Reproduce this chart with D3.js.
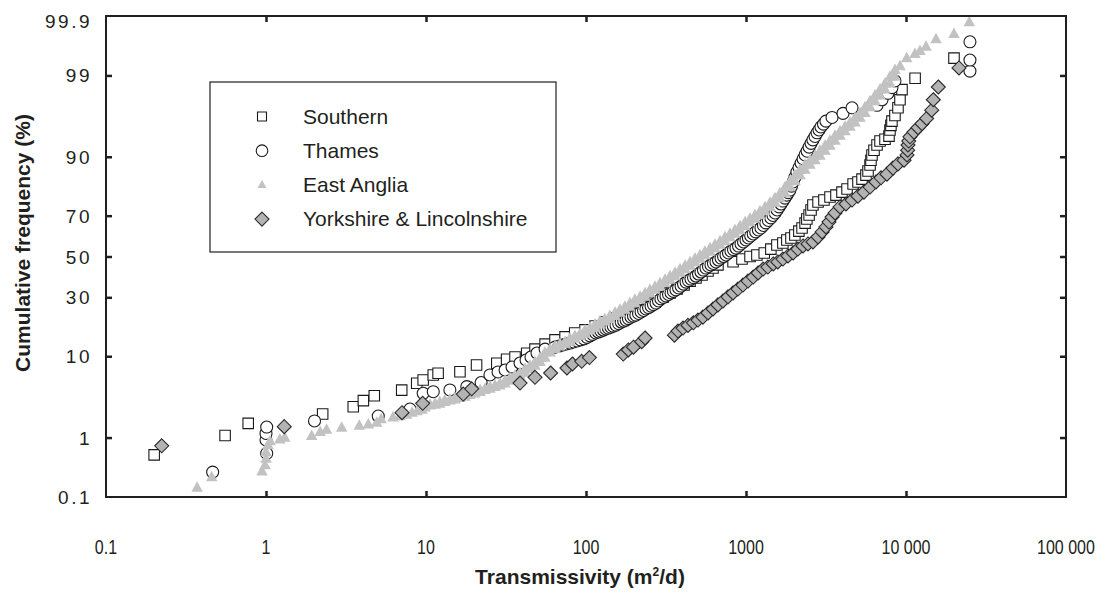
<!DOCTYPE html>
<html><head><meta charset="utf-8">
<script src="https://cdn.jsdelivr.net/npm/d3@7"></script>
<style>
html,body{margin:0;padding:0;background:#fff;}
svg{display:block;font-family:"Liberation Sans",Arial,sans-serif;}
</style></head><body>
<svg id="chart" width="1115" height="594"></svg>
<script>
// Transmissivity (m2/d) and cumulative frequency (%) for each region
const southern = [[0.2,0.54],[0.555,1.07],[0.774,1.6],[2.26,2.15],[3.51,2.68],[4.06,3.2],[4.75,3.68],[7.05,4.3],[8.75,5.17],[9.6,5.63],[11.1,6.4],[11.9,6.67],[16.3,6.94],[20.7,8.17],[27.7,8.5],[31.9,9.33],[36,9.83],[42.6,10.7],[48,11.7],[55.5,13.0],[64,14.2],[74,15.1],[85,16.3],[98.6,17.3],[114,18.6],[131,20.0],[152,21.5],[175,22.6],[202,23.8],[218,24.6],[244,26.2],[270,27.9],[303,30.1],[335,32.0],[371,33.8],[410,35.7],[447,37.6],[487,39.1],[531,40.6],[579,42.6],[622,44.1],[668,45.7],[830,47.3],[944,48.7],[1060,50.0],[1170,50.8],[1300,51.8],[1430,53.8],[1560,55.9],[1700,56.9],[1800,58.4],[1910,59.4],[2020,60.9],[2140,62.8],[2240,64.3],[2340,66.6],[2400,68.5],[2480,70.3],[2550,72.5],[2620,74.6],[2820,75.8],[3070,76.6],[3350,77.8],[3650,78.5],[3980,79.6],[4280,80.7],[4670,82.4],[5010,83.1],[5310,84.0],[5620,85.2],[5790,86.4],[5960,88.0],[6040,89.2],[6130,90.4],[6310,91.4],[6590,92.4],[6880,93.1],[7390,93.4],[7830,93.9],[7940,94.8],[8050,95.4],[8170,95.9],[8530,96.5],[8910,97.2],[9170,97.8],[9440,98.4],[11400,98.9],[19950,99.46]];

const thames = [[0.464,0.28],[1.01,0.57],[1.0,0.92],[1.0,1.15],[1.01,1.42],[2.01,1.73],[5.03,2.02],[7.94,2.5],[9.6,3.94],[11.1,4.12],[14.1,4.32],[18,4.72],[22.1,5.27],[25.1,6.4],[28.2,6.9],[31.2,7.24],[34.5,7.78],[38.7,8.56],[42.2,9.18],[45.3,9.83],[49.4,10.75],[55.5,11.7],[64,12.2],[67.8,12.5],[71.8,12.8],[75.5,13.05],[79.4,13.3],[83.5,13.6],[87.9,13.9],[92.4,14.2],[97.2,14.5],[101.5,14.95],[106,15.4],[110,15.85],[115,16.3],[119.5,16.6],[124,16.9],[128.5,17.25],[133,17.6],[138,17.9],[143,18.2],[148,18.55],[154,18.9],[160,19.45],[166,20.0],[172,20.35],[178,20.7],[184,21.25],[191,21.8],[198,22.2],[205,22.6],[213,23.2],[221,23.8],[229,24.4],[237,25.0],[246,25.6],[255,26.2],[264,26.85],[274,27.5],[284,28.4],[294,29.3],[305,29.95],[316,30.6],[328,31.3],[340,32.0],[352,32.7],[365,33.4],[379,34.3],[393,35.2],[407,36.15],[422,37.1],[437,37.85],[453,38.6],[470,39.35],[487,40.1],[505,41.1],[523,42.1],[542,43.1],[562,44.1],[583,44.9],[604,45.7],[626,46.45],[649,47.2],[673,48.2],[698,49.2],[724,50.0],[750,50.8],[777,51.8],[805,52.8],[835,53.55],[866,54.3],[898,55.35],[931,56.4],[965,57.4],[1000,58.4],[1035,59.4],[1070,60.4],[1110,61.4],[1150,62.4],[1195,63.35],[1240,64.3],[1285,65.5],[1330,66.7],[1380,67.85],[1430,69.0],[1475,70.1],[1520,71.2],[1565,72.5],[1610,73.8],[1655,75.0],[1700,76.2],[1750,77.35],[1800,78.5],[1840,79.4],[1880,80.3],[1925,81.7],[1970,83.1],[2025,84.6],[2080,86.1],[2145,87.3],[2210,88.5],[2275,89.5],[2340,90.4],[2410,91.2],[2480,92.0],[2550,92.7],[2620,93.3],[2700,93.85],[2780,94.4],[2860,94.8],[2940,95.2],[3050,95.55],[3160,95.9],[3450,96.3],[4040,96.7],[4600,97.2],[6590,97.4],[7080,97.8],[7720,98.2],[8170,98.5],[8530,98.8],[25100,99.14],[25100,99.42],[25100,99.71]];

const eastAnglia = [[0.371,0.15],[0.458,0.23],[0.944,0.29],[0.986,0.37],[1.0,0.47],[1.0,0.6],[1.03,0.77],[1.06,0.89],[1.22,0.94],[1.31,1.0],[1.93,1.06],[2.18,1.21],[2.39,1.31],[2.97,1.4],[3.83,1.49],[4.36,1.55],[4.92,1.64],[5.24,1.84],[6.22,1.94],[6.88,2.02],[7.57,2.12],[8.18,2.25],[8.79,2.36],[9.44,2.47],
  [9.86,2.63],[9.86,2.79],[10.6,2.79],[10.6,2.86],[11.4,2.86],[11.4,2.95],[12.2,2.95],[12.2,3.09],[13.1,3.09],[13.1,3.23],[14.1,3.23],[14.1,3.32],[15.2,3.32],[15.2,3.46],[16.3,3.46],[16.3,3.60],[17.5,3.60],[17.5,3.77],[18.8,3.77],[18.8,3.94],[20.2,3.94],[20.2,4.10],[21.8,4.10],[21.8,4.33],[23.4,4.33],[23.4,4.50],[25.1,4.50],[25.1,4.70],[27.0,4.70],[27.0,4.89],[29.0,4.89],[29.0,5.15],[31.2,5.15],[31.2,5.56],[33.5,5.56],[33.5,5.95],[36.0,5.95],[36.0,6.33],[38.7,6.33],[38.7,6.81],[41.6,6.81],[41.6,7.44],[44.7,7.44],[44.7,8.07],[48.0,8.07],[48.0,8.79],[51.6,8.79],[51.6,9.72],[55.4,9.72],[55.4,10.9],[59.6,10.9],[59.6,11.75],[64.0,11.75],[64.0,12.4],[68.8,12.4],[68.8,13.07],[73.9,13.07],[73.9,13.75],[79.4,13.75],[79.4,14.64],[85.3,14.64],[85.3,15.38],[91.7,15.38],[91.7,16.14],[98.6,16.14],[98.6,17.12],[106,17.12],[106,18.1],[114,18.1],[114,19.14],[122,19.14],[122,20.21],[131,20.21],[131,21.11],[141,21.11],[141,22.26],[152,22.26],[152,23.61],[163,23.61],[163,24.81],[175,24.81],[175,26.06],[188,26.06],[188,27.52],[202,27.52],[202,29.05],[218,29.05],[218,30.37],[234,30.37],[234,31.97],[251,31.97],[251,33.59],[270,33.59],[270,35.0],[290,35.0],[290,36.69],[312,36.69],[312,38.38],[335,38.38],[335,40.12],[360,40.12],[360,41.85],[387,41.85],[387,43.63],[416,43.63],[416,45.4],[447,45.4],[447,47.19],[480,47.19],[480,48.98],[516,48.98],[516,50.77],[554,50.77],[554,52.56],[596,52.56],[596,54.34],[640,54.34],[640,56.12],[688,56.12],[688,57.9],[739,57.9],[739,59.88],[794,59.88],[794,61.62],[853,61.62],[853,63.31],[917,63.31],[917,65.24],[986,65.24],[986,67.1],[1059,67.1],[1059,68.72],[1138,68.72],[1138,70.29],[1223,70.29],[1223,72.04],[1315,72.04],[1315,73.73],[1413,73.73],[1413,75.6],[1518,75.6],[1518,77.35],[1631,77.35],[1631,79.25],[1753,79.25],[1753,81.4],[1884,81.4],[1884,83.37],[2024,83.37],[2024,85.22],[2175,85.22],[2175,86.8],[2338,86.8],[2338,88.12],[2512,88.12],[2512,89.22],[2700,89.22],[2700,90.28],[2901,90.28],[2901,91.31],[3118,91.31],[3118,92.29],[3350,92.29],[3350,93.19],[3600,93.19],[3600,93.98],[3869,93.98],[3869,94.65],[4158,94.65],[4158,95.24],[4467,95.24],[4467,95.78],[4801,95.78],[4801,96.29],[5159,96.29],[5159,96.77],[5544,96.77],[5544,97.25],[5957,97.25],[5957,97.71],[6402,97.71],[6402,98.09],[6880,98.09],[6880,98.42],[7393,98.42],[7393,98.7],[7943,98.7],[7943,98.96],[8536,98.96],[8536,99.18],
  [9173,99.28],[10100,99.46],[11380,99.54],[12230,99.59],[13340,99.65],[15400,99.74],[19950,99.79],[24870,99.87]];

const yorkshire = [[0.223,0.75],[1.30,1.44],[7.08,2.24],[9.53,2.96],[17.1,3.86],[19.3,4.46],[38.7,5.2],[48.0,6.03],[60.1,6.72],[76.0,7.6],[82.3,8.36],[94,8.9],[105,9.7],[171,10.5],[184,11.5],[198,12.2],[223,13.7],[234,14.75],[357,15.6],[376,16.9],[404,17.9],[434,18.8],[469,19.7],[501,20.7],[538,21.8],[579,23.4],[622,25.0],[668,26.7],[718,28.4],[772,30.2],[830,32.0],[891,33.8],[958,35.7],[1030,37.6],[1110,39.6],[1190,41.6],[1280,43.6],[1370,44.6],[1480,46.2],[1580,47.2],[1700,48.7],[1830,50.3],[1970,51.8],[2110,53.8],[2270,55.4],[2440,56.4],[2620,57.4],[2820,59.9],[2990,62.4],[3160,64.8],[3300,67.1],[3450,69.4],[3600,71.2],[3870,73.8],[4220,75.0],[4600,76.6],[5010,78.1],[5460,79.6],[5960,81.4],[6490,83.1],[6980,84.4],[7600,85.5],[8290,87.2],[8910,88.3],[9720,89.2],[10140,90.4],[10240,91.4],[10290,92.4],[10400,93.1],[10590,93.8],[11220,94.5],[11890,95.1],[12590,95.6],[13460,96.2],[14480,97.0],[14820,97.8],[15920,98.53],[21440,99.23]];

const seriesNames = ["Southern", "Thames", "East Anglia", "Yorkshire & Lincolnshire"];
const yTicks = [0.1, 1, 10, 30, 50, 70, 90, 99, 99.9];
const yTickLabels = ["0.1", "1", "10", "30", "50", "70", "90", "99", "99.9"];
const xTicks = [0.1, 1, 10, 100, 1000, 10000, 100000];
const xTickLabels = ["0.1", "1", "10", "100", "1000", "10 000", "100 000"];

// inverse of the standard normal CDF (Acklam's rational approximation)
function qnorm(p) {
  const a = [-3.969683028665376e+01, 2.209460984245205e+02, -2.759285104469687e+02, 1.383577518672690e+02, -3.066479806614716e+01, 2.506628277459239e+00];
  const b = [-5.447609879822406e+01, 1.615858368580409e+02, -1.556989798598866e+02, 6.680131188771972e+01, -1.328068155288572e+01];
  const c = [-7.784894002430293e-03, -3.223964580411365e-01, -2.400758277161838e+00, -2.549671010388353e+00, 4.374664141464968e+00, 2.938163982698783e+00];
  const d = [7.784695709041462e-03, 3.224671290700398e-01, 2.445134137142996e+00, 3.754408661907416e+00];
  const plow = 0.02425, phigh = 1 - plow;
  let q, r;
  if (p < plow) {
    q = Math.sqrt(-2 * Math.log(p));
    return (((((c[0]*q+c[1])*q+c[2])*q+c[3])*q+c[4])*q+c[5]) / ((((d[0]*q+d[1])*q+d[2])*q+d[3])*q+1);
  } else if (p <= phigh) {
    q = p - 0.5; r = q * q;
    return (((((a[0]*r+a[1])*r+a[2])*r+a[3])*r+a[4])*r+a[5])*q / (((((b[0]*r+b[1])*r+b[2])*r+b[3])*r+b[4])*r+1);
  }
  q = Math.sqrt(-2 * Math.log(1 - p));
  return -(((((c[0]*q+c[1])*q+c[2])*q+c[3])*q+c[4])*q+c[5]) / ((((d[0]*q+d[1])*q+d[2])*q+d[3])*q+1);
}

const plotLeft = 106, plotRight = 1066, plotTop = 16, plotBottom = 497;
const ink = "#231f20";

const x = d3.scaleLog().domain([0.1, 100000]).range([plotLeft, plotRight]);

// probability (normal-quantile) scale for the cumulative frequency axis
const zScale = d3.scaleLinear().domain([qnorm(0.001), qnorm(0.999)]).range([plotBottom, plotTop]);
function y(p) { return zScale(qnorm(p / 100)); }
y.domain = () => [0.1, 99.9];
y.range = () => [plotBottom, plotTop];
y.copy = () => y;

const svg = d3.select("#chart");

// marker shapes
const squarePath = s => `M${-s/2},${-s/2}h${s}v${s}h${-s}Z`;
const trianglePath = (w, h) => `M0,${-h*0.6}L${w/2},${h*0.4}L${-w/2},${h*0.4}Z`;
const diamondPath = r => `M0,${-r}L${r},0L0,${r}L${-r},0Z`;

const styles = [
  {data: southern, draw: g => g.append("path").attr("d", squarePath(10.5)).attr("fill", "#fff").attr("stroke", "#1a1a1a").attr("stroke-width", 1.1)},
  {data: thames, draw: g => g.append("circle").attr("r", 6).attr("fill", "#fff").attr("stroke", "#1a1a1a").attr("stroke-width", 1.1)},
  {data: eastAnglia, draw: g => g.append("path").attr("d", trianglePath(11.5, 10.5)).attr("fill", "#c2c2c2")},
  {data: yorkshire, draw: g => g.append("path").attr("d", diamondPath(7)).attr("fill", "#b3b3b3").attr("stroke", "#2b2b2b").attr("stroke-width", 1.1)}
];

const plot = svg.append("g");
styles.forEach(st => {
  plot.append("g").selectAll("g").data(st.data).join("g")
    .attr("transform", d => `translate(${x(d[0])},${y(d[1])})`)
    .each(function() { st.draw(d3.select(this)); });
});

// frame
svg.append("rect").attr("x", plotLeft).attr("y", plotTop).attr("width", plotRight - plotLeft).attr("height", plotBottom - plotTop)
  .attr("fill", "none").attr("stroke", ink).attr("stroke-width", 2);

// axes with inward ticks
function styleAxis(g) {
  g.select(".domain").remove();
  g.selectAll(".tick line").attr("stroke", ink).attr("stroke-width", 2.5);
}
const innerX = xTicks.filter(v => v > 0.1 && v < 100000);
const innerY = yTicks.filter(v => v > 0.1 && v < 99.9);

svg.append("g").attr("transform", `translate(0,${plotBottom})`)
  .call(d3.axisBottom(x).tickValues(innerX).tickSize(-6).tickFormat(""))
  .call(styleAxis);
svg.append("g").attr("transform", `translate(0,${plotTop})`)
  .call(d3.axisTop(x).tickValues(innerX).tickSize(-6).tickFormat(""))
  .call(styleAxis);
svg.append("g").attr("transform", `translate(${plotLeft},0)`)
  .call(d3.axisLeft(y).tickValues(innerY).tickSize(-6).tickFormat(""))
  .call(styleAxis);
svg.append("g").attr("transform", `translate(${plotRight},0)`)
  .call(d3.axisRight(y).tickValues(innerY).tickSize(-6).tickFormat(""))
  .call(styleAxis);

// tick labels
svg.append("g").selectAll("text").data(xTicks).join("text")
  .attr("x", d => x(d)).attr("y", 554)
  .attr("text-anchor", "middle")
  .attr("font-size", 20).attr("fill", ink)
  .attr("transform", d => `translate(${x(d)},0) scale(0.8,1) translate(${-x(d)},0)`)
  .text((d, i) => xTickLabels[i]);

svg.append("g").selectAll("text").data(yTicks).join("text")
  .attr("x", 92).attr("y", d => Math.min(Math.max(y(d), 21), 499) + 7)
  .attr("text-anchor", "end")
  .attr("font-size", 19).attr("letter-spacing", 2.5).attr("fill", ink)
  .text((d, i) => yTickLabels[i]);

// axis titles
const xt = svg.append("text").attr("x", 580).attr("y", 584).attr("text-anchor", "middle")
  .attr("font-size", 21).attr("font-weight", "bold").attr("fill", ink);
xt.append("tspan").text("Transmissivity (m");
xt.append("tspan").attr("dy", -8).attr("font-size", 12).text("2");
xt.append("tspan").attr("dy", 8).text("/d)");

svg.append("text").attr("transform", "translate(30,243) rotate(-90)").attr("text-anchor", "middle")
  .attr("font-size", 21).attr("font-weight", "bold").attr("fill", ink)
  .text("Cumulative frequency (%)");

// legend
const lg = svg.append("g");
lg.append("rect").attr("x", 210).attr("y", 82).attr("width", 346).attr("height", 170)
  .attr("fill", "#fff").attr("stroke", ink).attr("stroke-width", 1.2);
const legendMarks = [
  g => g.append("path").attr("d", squarePath(9)).attr("fill", "#fff").attr("stroke", "#1a1a1a").attr("stroke-width", 1.1),
  g => g.append("circle").attr("r", 5.8).attr("fill", "#fff").attr("stroke", "#1a1a1a").attr("stroke-width", 1.1),
  g => g.append("path").attr("d", trianglePath(9, 8)).attr("fill", "#c2c2c2"),
  g => g.append("path").attr("d", diamondPath(7)).attr("fill", "#b3b3b3").attr("stroke", "#2b2b2b").attr("stroke-width", 1.1)
];
seriesNames.forEach((name, i) => {
  const cy = 116.5 + i * 34.2;
  const row = lg.append("g").attr("transform", `translate(0,${cy})`);
  legendMarks[i](row.append("g").attr("transform", "translate(262,0)"));
  row.append("text").attr("x", 303).attr("y", 7).attr("font-size", 21).attr("fill", ink).text(name);
});
</script>
</body></html>
